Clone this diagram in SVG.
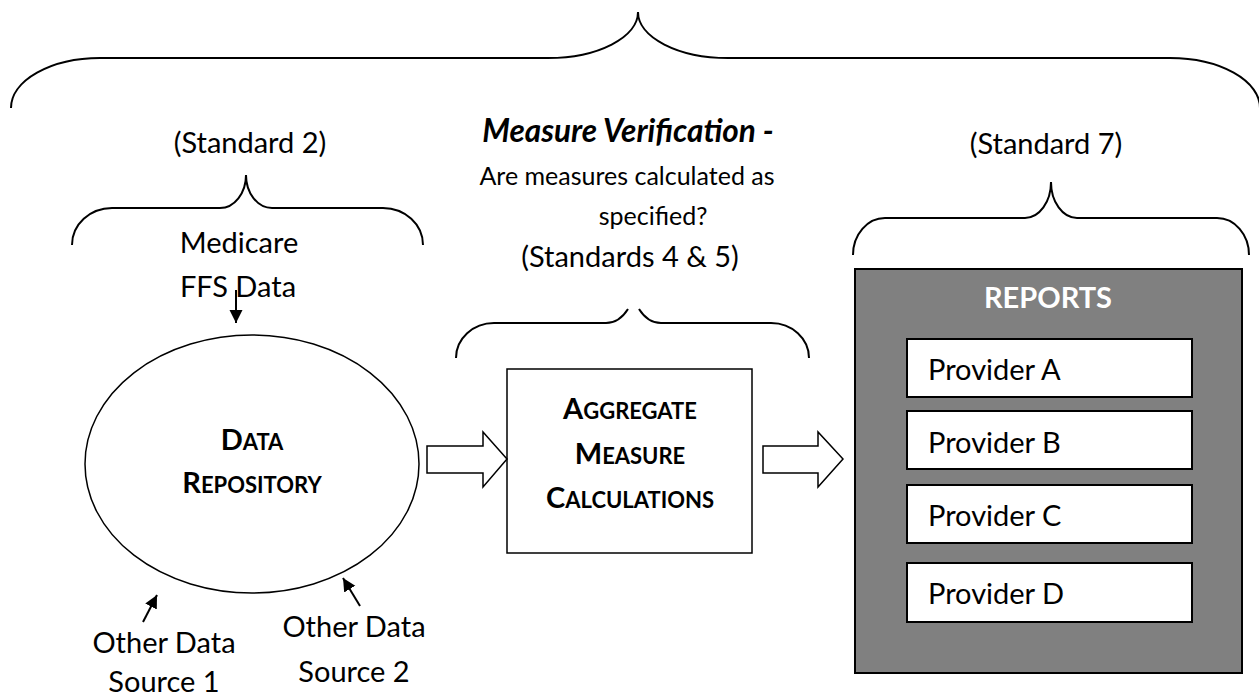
<svg xmlns="http://www.w3.org/2000/svg" width="1259" height="698" viewBox="0 0 1259 698">
<style>
.br{fill:none;stroke:#000;stroke-width:2}
.t{font-family:Lato,"Liberation Sans",sans-serif;font-size:29px;fill:#000}
.m{text-anchor:middle}
.b{font-weight:bold}
.sc{font-size:22px}
.small{font-size:25px}
.ln{stroke:#000;stroke-width:2;fill:none}
.hollow{fill:#fff;stroke:#000;stroke-width:1.5}
</style>
<defs>
<marker id="ah" viewBox="0 0 10 10" refX="10" refY="5" markerUnits="userSpaceOnUse" markerWidth="13" markerHeight="14" orient="auto">
<path d="M0,0 L10,5 L0,10 z" fill="#000"/>
</marker>
</defs>
<rect width="1259" height="698" fill="#fff"/>
<g id="braces">
<path class="br" d="M11,108 A89,50 0 0 1 100,58 H548 A90,46 0 0 0 638,12 A90,46 0 0 0 728,58 H1170 A90,50 0 0 1 1260,108"/>
<path class="br" d="M72,245 A40,37 0 0 1 112,208 H220 A26,33 0 0 0 246,175 A26,33 0 0 0 272,208 H383 A40,37 0 0 1 423,245"/>
<path class="br" d="M456,358 A38,35 0 0 1 494,323 H606 C617,323 623,317 628,309"/>
<path class="br" d="M639,309 C644,317 650,323 661,323 H771 A38,35 0 0 1 809,358"/>
<path class="br" d="M853,255 A32,37 0 0 1 885,218 H1025 A26,36 0 0 0 1051,182 A26,36 0 0 0 1077,218 H1217 A32,37 0 0 1 1249,255"/>
</g>
<g id="labels">
<text class="t m" x="250" y="153">(Standard 2)</text>
<text class="t m b" x="628" y="142" font-style="italic" font-size="31.5" style="font-size:31.5px">Measure Verification -</text>
<text class="t m small" x="627" y="185">Are measures calculated as</text>
<text class="t m small" x="653" y="225">specified?</text>
<text class="t m" x="630" y="267">(Standards 4 &amp; 5)</text>
<text class="t m" x="1046" y="154">(Standard 7)</text>
</g>
<g id="medicare">
<text class="t m" x="239" y="253">Medicare</text>
<text class="t m" x="238" y="297">FFS Data</text>
</g>
<g id="source1">
<text class="t m" x="164" y="653">Other Data</text>
<text class="t m" x="164" y="692">Source 1</text>
</g>
<g id="source2">
<text class="t m" x="354" y="637">Other Data</text>
<text class="t m" x="354" y="682">Source 2</text>
</g>
<g id="repository">
<ellipse cx="252" cy="464" rx="167" ry="129" fill="#fff" stroke="#000" stroke-width="1.5"/>
<text class="t m b" x="252" y="450">D<tspan class="sc">ATA</tspan></text>
<text class="t m b" x="252" y="493">R<tspan class="sc">EPOSITORY</tspan></text>
</g>
<g id="aggregate">
<rect x="507" y="369" width="245" height="184" fill="#fff" stroke="#000" stroke-width="1.5"/>
<text class="t m b" x="630" y="419">A<tspan class="sc">GGREGATE</tspan></text>
<text class="t m b" x="630" y="464">M<tspan class="sc">EASURE</tspan></text>
<text class="t m b" x="630" y="508">C<tspan class="sc">ALCULATIONS</tspan></text>
</g>
<g id="reports">
<rect x="855" y="269" width="387" height="404" fill="#808080" stroke="#000" stroke-width="2"/>
<text class="t m b" x="1048" y="308" style="fill:#fff">REPORTS</text>
<g id="providerA">
<rect x="907" y="339" width="285" height="58" fill="#fff" stroke="#000" stroke-width="2"/>
<text class="t" x="928" y="380">Provider A</text>
</g>
<g id="providerB">
<rect x="907" y="411" width="285" height="58" fill="#fff" stroke="#000" stroke-width="2"/>
<text class="t" x="928" y="453">Provider B</text>
</g>
<g id="providerC">
<rect x="907" y="485" width="285" height="58" fill="#fff" stroke="#000" stroke-width="2"/>
<text class="t" x="928" y="526">Provider C</text>
</g>
<g id="providerD">
<rect x="907" y="563" width="285" height="59" fill="#fff" stroke="#000" stroke-width="2"/>
<text class="t" x="928" y="604">Provider D</text>
</g>
</g>
<g id="connectors">
<line class="ln" x1="236" y1="290" x2="236" y2="323" marker-end="url(#ah)"/>
<line class="ln" x1="143" y1="622" x2="157" y2="595" marker-end="url(#ah)"/>
<line class="ln" x1="360" y1="606" x2="343" y2="578" marker-end="url(#ah)"/>
<polygon class="hollow" points="427,446 483,446 483,432 507,459 483,487 483,473 427,473"/>
<polygon class="hollow" points="763,446 818,446 818,432 843,459 818,487 818,473 763,473"/>
</g>
</svg>
